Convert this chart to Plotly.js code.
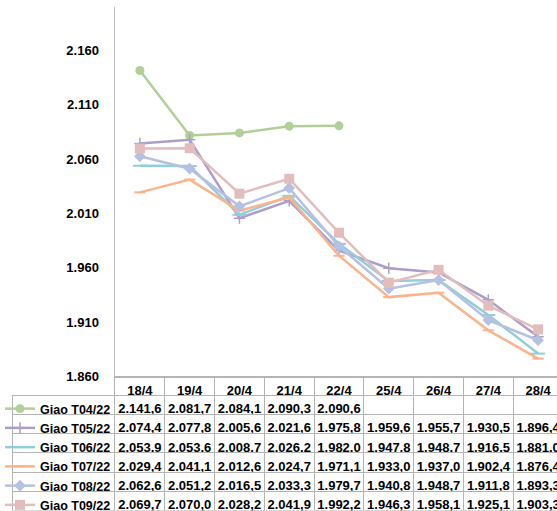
<!DOCTYPE html>
<html>
<head>
<meta charset="utf-8">
<script src="https://cdn.plot.ly/plotly-3.0.1.min.js"></script>
<style>
  html, body { margin: 0; padding: 0; background: #fff; overflow: hidden; }
  #chart { width: 600px; height: 520px; }
</style>
</head>
<body>
<div id="chart"></div>
<script>
// ---- data ----
const categories = ['18/4', '19/4', '20/4', '21/4', '22/4', '25/4', '26/4', '27/4', '28/4'];
const seriesNames = ['Giao T04/22', 'Giao T05/22', 'Giao T06/22', 'Giao T07/22', 'Giao T08/22', 'Giao T09/22'];
const t04 = [2141.6, 2081.7, 2084.1, 2090.3, 2090.6, null, null, null, null];
const t05 = [2074.4, 2077.8, 2005.6, 2021.6, 1975.8, 1959.6, 1955.7, 1930.5, 1896.4];
const t06 = [2053.9, 2053.6, 2008.7, 2026.2, 1982.0, 1947.8, 1948.7, 1916.5, 1881.0];
const t07 = [2029.4, 2041.1, 2012.6, 2024.7, 1971.1, 1933.0, 1937.0, 1902.4, 1876.4];
const t08 = [2062.6, 2051.2, 2016.5, 2033.3, 1979.7, 1940.8, 1948.7, 1911.8, 1893.3];
const t09 = [2069.7, 2070.0, 2028.2, 2041.9, 1992.2, 1946.3, 1958.1, 1925.1, 1903.3];
const yTicks = [1860, 1910, 1960, 2010, 2060, 2110, 2160];

// ---- styles ----
const seriesValues = [t04, t05, t06, t07, t08, t09];
const colors = ['#b3cf99', '#ab9fca', '#93cddb', '#fab48c', '#b5c1e0', '#e3bdbd'];
const symbols = ['circle', 'cross-thin', 'line-ew', 'line-ew', 'diamond', 'square'];
const sizes = [9, 8, 10, 8, 9, 10];
const lineW = [0, 1.5, 2, 2, 0, 0];
const gridGray = '#b4b4b4';
const FONT = 'Liberation Sans, Arial, sans-serif';

function fmt(v) {
  if (v === null || v === undefined) return '';
  const s = v.toFixed(1);
  const parts = s.split('.');
  const intPart = parts[0].replace(/\B(?=(\d{3})+(?!\d))/g, '.');
  return intPart + ',' + parts[1];
}

const traces = seriesValues.map((vals, i) => ({
  type: 'scatter',
  mode: 'lines+markers',
  name: seriesNames[i],
  x: categories,
  y: vals,
  xaxis: 'x',
  yaxis: 'y',
  line: { color: colors[i], width: 2.5 },
  marker: {
    symbol: symbols[i],
    size: sizes[i],
    color: colors[i],
    line: { color: colors[i], width: lineW[i] }
  },
  connectgaps: false,
  cliponaxis: false,
  hoverinfo: 'skip'
}));

// table
const headerVals = [['']].concat(categories.map(c => [c]));
const cellCols = [seriesNames.map(() => '')].concat(
  categories.map((c, j) => seriesValues.map(s => fmt(s[j])))
);
const colW = [103].concat(categories.map(() => 49.78));

traces.push({
  type: 'table',
  domain: { x: [0, 1], y: [0, (520 - 384) / 513] },
  columnwidth: colW,
  header: {
    values: headerVals,
    height: 18,
    align: 'center',
    font: { family: FONT, size: 13, color: '#000', weight: 'bold' },
    fill: { color: ['rgba(0,0,0,0)'].concat(categories.map(() => '#ffffff')) },
    line: { color: ['rgba(0,0,0,0)'].concat(categories.map(() => gridGray)), width: 1 }
  },
  cells: {
    values: cellCols,
    height: 19.2,
    align: 'center',
    font: { family: FONT, size: 13, color: '#000', weight: 'bold' },
    fill: { color: '#ffffff' },
    line: { color: gridGray, width: 1 }
  }
});

const layout = {
  width: 600,
  height: 520,
  margin: { l: 12, r: 37, t: 7, b: 0 },
  paper_bgcolor: '#ffffff',
  plot_bgcolor: '#ffffff',
  separators: ',.',
  showlegend: true,
  legend: {
    x: -12 / 551, xanchor: 'left',
    y: (520 - 401) / 513, yanchor: 'top',
    bgcolor: 'rgba(0,0,0,0)',
    borderwidth: 0,
    font: { family: FONT, size: 12.5, color: '#000', weight: 'bold' },
    tracegroupgap: 0,
    itemclick: false,
    itemdoubleclick: false
  },
  xaxis: {
    domain: [(115 - 12) / 551, 1],
    type: 'category',
    range: [-0.5, 8.5],
    showticklabels: false,
    showgrid: false,
    zeroline: false,
    showline: true,
    linecolor: gridGray,
    linewidth: 1,
    ticks: '',
    fixedrange: true
  },
  yaxis: {
    domain: [(520 - 383) / 513, 1],
    range: [1860, 2200],
    tickvals: yTicks,
    tickformat: ',d',
    showgrid: false,
    zeroline: false,
    showline: true,
    linecolor: '#b8b8b8',
    linewidth: 1.5,
    ticks: '',
    ticklabelstandoff: 12,
    tickfont: { family: FONT, size: 13, color: '#000', weight: 'bold' },
    fixedrange: true
  }
};

Plotly.newPlot('chart', traces, layout, { displayModeBar: false, staticPlot: true });
</script>
</body>
</html>
